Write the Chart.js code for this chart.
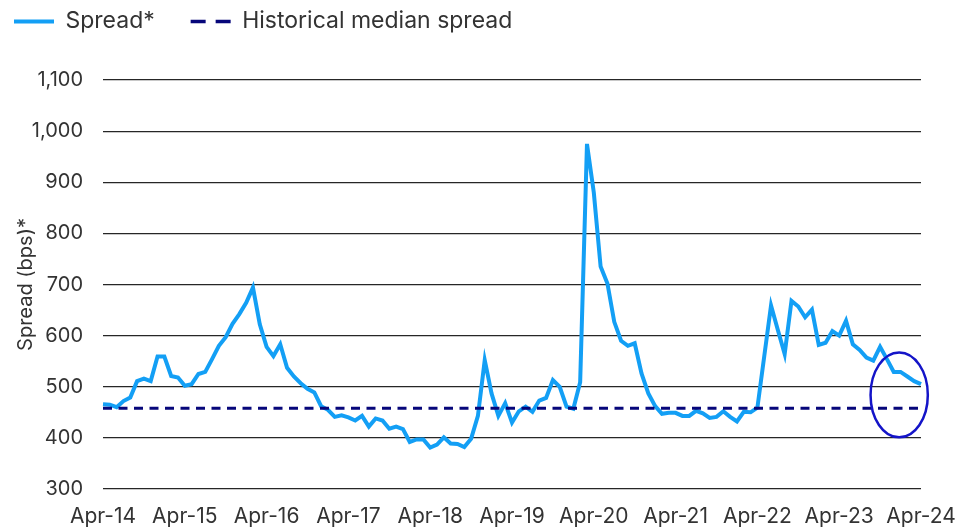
<!DOCTYPE html>
<html>
<head>
<meta charset="utf-8">
<script src="https://cdn.jsdelivr.net/npm/chart.js@4.4.1/dist/chart.umd.min.js"></script>
<style>
  html, body { margin: 0; padding: 0; background: #fff; }
  #wrap { width: 955px; height: 527px; }
</style>
</head>
<body>
<div id="wrap"><canvas id="myChart"></canvas></div>
<script>
// monthly spread, Apr-14 .. Apr-24
const spread = [
  466, 465, 460, 472, 479, 511, 516, 511, 559, 559, 521, 518,
  502, 505, 525, 529, 554, 580, 597, 623, 642, 664, 694, 622,
  578, 560, 583, 537, 520, 507, 496, 489, 462, 455, 441, 444,
  440, 434, 443, 422, 438, 434, 418, 422, 417, 392, 397, 397,
  381, 387, 401, 389, 388, 382, 398, 443, 552, 487, 443, 468,
  430, 452, 461, 451, 473, 478, 513, 500, 461, 457, 509, 975,
  880, 735, 702, 627, 590, 580, 585, 526, 487, 462, 447, 449,
  449, 443, 443, 453, 448, 439, 441, 452, 441, 432, 451, 450,
  459, 559, 659, 611, 564, 668, 657, 636, 651, 582, 586, 609,
  600, 629, 583, 572, 557, 551, 578, 554, 529, 529, 520, 511,
  505
];
const medianSpread = 458;
const yearTicks = ["Apr-14", "Apr-15", "Apr-16", "Apr-17", "Apr-18", "Apr-19",
                   "Apr-20", "Apr-21", "Apr-22", "Apr-23", "Apr-24"];
const monthNames = ["Jan", "Feb", "Mar", "Apr", "May", "Jun",
                    "Jul", "Aug", "Sep", "Oct", "Nov", "Dec"];
const yMin = 300, yMax = 1100, yStep = 100;

const months = spread.map((_, i) => {
  const m = 3 + i;
  return monthNames[m % 12] + "-" + (14 + Math.floor(m / 12));
});

// circled latest readings (in data units)
const highlight = { index: 116.8, value: 484, halfMonths: 4.2, halfBps: 83 };

const FONT = "Inter, 'Liberation Sans', Arial, sans-serif";
const TEXT = "#333333";

const legendSpace = {
  id: "legendSpace",
  beforeInit(chart) {
    const fit = chart.legend.fit;
    chart.legend.fit = function () {
      fit.call(this);
      this.height = 80;
    };
  }
};

const circleNote = {
  id: "circleNote",
  afterDatasetsDraw(chart) {
    const { ctx, scales: { x, y } } = chart;
    const cx = x.getPixelForValue(highlight.index);
    const cy = y.getPixelForValue(highlight.value);
    const rx = Math.abs(x.getPixelForValue(highlight.index + highlight.halfMonths) - cx);
    const ry = Math.abs(y.getPixelForValue(highlight.value + highlight.halfBps) - cy);
    ctx.save();
    ctx.beginPath();
    ctx.ellipse(cx, cy, rx, ry, 0, 0, Math.PI * 2);
    ctx.strokeStyle = "#1414c8";
    ctx.lineWidth = 2.5;
    ctx.stroke();
    ctx.restore();
  }
};

new Chart(document.getElementById("myChart"), {
  type: "line",
  data: {
    labels: months,
    datasets: [
      {
        label: "Spread*",
        data: spread,
        borderColor: "#139ff5",
        backgroundColor: "#139ff5",
        borderWidth: 4,
        pointRadius: 0,
        tension: 0,
        order: 1
      },
      {
        label: "Historical median spread",
        data: spread.map(() => medianSpread),
        borderColor: "#06067a",
        backgroundColor: "#06067a",
        borderWidth: 3,
        borderDash: [9, 6.5],
        pointRadius: 0,
        order: 0
      }
    ]
  },
  options: {
    responsive: true,
    maintainAspectRatio: false,
    animation: false,
    layout: { padding: { left: 4, right: 34, top: 0, bottom: 0 } },
    plugins: {
      tooltip: { enabled: false },
      legend: {
        display: true,
        position: "top",
        align: "start",
        labels: {
          usePointStyle: true,
          pointStyle: "line",
          pointStyleWidth: 40,
          padding: 10,
          color: TEXT,
          font: { family: FONT, size: 23 },
          sort: (a, b) => a.datasetIndex - b.datasetIndex,
          generateLabels(chart) {
            const items = Chart.defaults.plugins.legend.labels.generateLabels(chart);
            items.forEach(it => {
              it.pointStyle = "line";
              if (it.datasetIndex === 0) it.text = it.text + "    ";
              if (it.datasetIndex === 1) { it.lineDash = [15, 10]; it.lineWidth = 3.5; }
            });
            return items;
          }
        }
      }
    },
    scales: {
      x: {
        grid: { display: false, drawTicks: false },
        border: { display: false },
        ticks: {
          autoSkip: false,
          maxRotation: 0,
          padding: 15,
          color: TEXT,
          font: { family: FONT, size: 21 },
          callback(value) {
            const lab = this.getLabelForValue(value);
            return yearTicks.includes(lab) ? lab : null;
          }
        },
        afterFit(scale) {
          scale.height = 38;
          scale.paddingLeft = 0;
          scale.paddingRight = 0;
        }
      },
      y: {
        min: yMin,
        max: yMax,
        grid: { color: "#262626", lineWidth: 1.2, drawTicks: false },
        border: { display: false },
        ticks: {
          stepSize: yStep,
          padding: 20,
          color: TEXT,
          font: { family: FONT, size: 20 }
        },
        title: {
          display: true,
          text: "Spread (bps)*",
          color: TEXT,
          font: { family: FONT, size: 20 },
          padding: { top: 10, bottom: 0 }
        },
        afterFit(scale) { scale.width = 99; }
      }
    }
  },
  plugins: [legendSpace, circleNote]
});
</script>
</body>
</html>
